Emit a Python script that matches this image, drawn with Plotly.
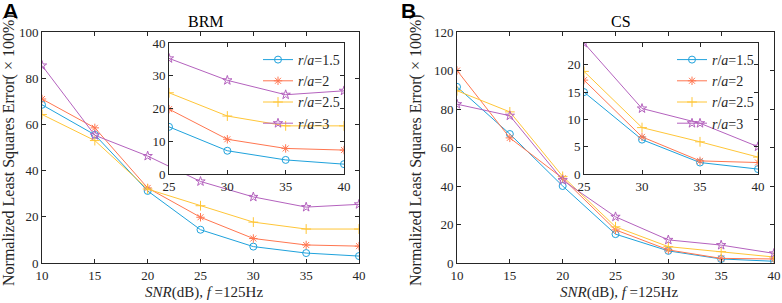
import plotly.graph_objects as go

# ---- data ----
snr = [10, 15, 20, 25, 30, 35, 40]
snr_inset = [25, 30, 35, 40]
ratio_labels = ["1.5", "2", "2.5", "3"]

brm_15 = [68.5, 55.5, 31.2, 14.4, 7.1, 4.3, 3.0]
brm_2 = [71.0, 58.5, 32.5, 19.8, 10.6, 7.8, 7.3]
brm_25 = [64.3, 53.0, 32.0, 24.8, 17.7, 14.7, 14.7]
brm_3 = [85.5, 55.3, 46.3, 35.3, 28.6, 24.2, 25.4]

cs_15 = [91.5, 67.0, 40.0, 15.0, 6.3, 2.1, 0.9]
cs_2 = [100.0, 65.0, 44.0, 17.2, 6.8, 2.4, 2.1]
cs_25 = [89.5, 78.5, 45.0, 18.8, 8.5, 5.9, 3.1]
cs_3 = [82.5, 76.5, 43.0, 24.0, 12.0, 9.3, 5.0]

main_x_ticks = [10, 15, 20, 25, 30, 35, 40]
brm_y_ticks = [0, 20, 40, 60, 80, 100]
cs_y_ticks = [0, 20, 40, 60, 80, 100, 120]
inset_x_ticks = [25, 30, 35, 40]
brm_inset_y_ticks = [0, 10, 20, 30, 40]
cs_inset_y_ticks = [0, 5, 10, 15, 20]

# ---- styles ----
colors = ["#1FA2DC", "#FF7650", "#FFC638", "#B462BE"]
symbols = ["circle-open", "asterisk-open", "cross-thin-open", "star-open"]
SERIF = "Liberation Serif"
AX = "#262626"
W, H = 782, 303


def px_x(a, b):
    return [a / W, b / W]


def px_y(top, bottom):
    return [1 - bottom / H, 1 - top / H]


fig = go.Figure()

panels = [
    ("x", "y", "x2", "y2", "legend", [brm_15, brm_2, brm_25, brm_3]),
    ("x3", "y3", "x4", "y4", "legend2", [cs_15, cs_2, cs_25, cs_3]),
]

for xm, ym, xi, yi, leg, series in panels:
    for k, vals in enumerate(series):
        fig.add_trace(go.Scatter(
            x=snr, y=vals, xaxis=xm, yaxis=ym, mode="lines+markers",
            line=dict(color=colors[k], width=1),
            marker=dict(symbol=symbols[k], size=7, color=colors[k],
                        line=dict(width=1, color=colors[k])),
            showlegend=False, hoverinfo="skip"))
    for k, vals in enumerate(series):
        fig.add_trace(go.Scatter(
            x=snr_inset, y=vals[3:], xaxis=xi, yaxis=yi, mode="lines+markers",
            name="<i>r</i>/<i>a</i>=" + ratio_labels[k],
            line=dict(color=colors[k], width=1),
            marker=dict(symbol=symbols[k], size=7, color=colors[k],
                        line=dict(width=1, color=colors[k])),
            legend=leg, showlegend=True, hoverinfo="skip"))


def axis(domain, rng, ticks, anchor):
    return dict(domain=domain, range=rng, tickvals=ticks, anchor=anchor,
                automargin=False,
                showline=True, mirror="ticks", linecolor=AX, linewidth=1,
                ticks="inside", ticklen=4, tickcolor=AX, tickwidth=1,
                showgrid=False, zeroline=False,
                tickfont=dict(family=SERIF, size=13, color=AX))


main_y = px_y(32, 263)
inset_y = px_y(43, 174)

fig.update_layout(
    width=W, height=H, margin=dict(l=0, r=0, t=0, b=0, autoexpand=False),
    paper_bgcolor="white", plot_bgcolor="white",
    xaxis=axis(px_x(42, 359), [10, 40], main_x_ticks, "y"),
    yaxis=axis(main_y, [0, 100], brm_y_ticks, "x"),
    xaxis2=axis(px_x(169, 344), [25, 40], inset_x_ticks, "y2"),
    yaxis2=axis(inset_y, [0, 40], brm_inset_y_ticks, "x2"),
    xaxis3=axis(px_x(457, 774), [10, 40], main_x_ticks, "y3"),
    yaxis3=axis(main_y, [0, 120], cs_y_ticks, "x3"),
    xaxis4=axis(px_x(584, 758), [25, 40], inset_x_ticks, "y4"),
    yaxis4=axis(inset_y, [0, 24], cs_inset_y_ticks, "x4"),
    legend=dict(x=258 / W, y=1 - 44 / H, xanchor="left", yanchor="top",
                bgcolor="rgba(0,0,0,0)", borderwidth=0,
                font=dict(family=SERIF, size=14, color=AX), tracegroupgap=0),
    legend2=dict(x=672 / W, y=1 - 44 / H, xanchor="left", yanchor="top",
                 bgcolor="rgba(0,0,0,0)", borderwidth=0,
                 font=dict(family=SERIF, size=14, color=AX), tracegroupgap=0),
)


def note(xp, yp, text, size, family=SERIF, angle=0, color=AX):
    return dict(x=xp / W, y=1 - yp / H, xref="paper", yref="paper",
                xanchor="center", yanchor="middle", text=text,
                textangle=angle, showarrow=False,
                font=dict(family=family, size=size, color=color))


ann = []
for cx, title in [((42 + 359) / 2, "BRM"), ((457 + 774) / 2, "CS")]:
    ann.append(note(cx + 5, 21, title, 16, color="black"))
    ann.append(note(cx + 3, 292, "<i>SNR</i>(dB), <i>f</i> =125Hz", 15))
for xc in [9, 416]:
    ann.append(note(xc, 150, "Normalized Least Squares Error( \u00d7 100%)",
                    16, angle=-90))
for xc, letter in [(10, "A"), (408, "B")]:
    ann.append(note(xc, 11, "<b>" + letter + "</b>", 21,
                    family="Liberation Sans", color="black"))
fig.update_layout(annotations=ann)

fig.write_html("out.html",
               config={"displayModeBar": False, "staticPlot": True},
               post_script="document.body.style.margin='0';"
                           "document.body.style.overflow='hidden';")
